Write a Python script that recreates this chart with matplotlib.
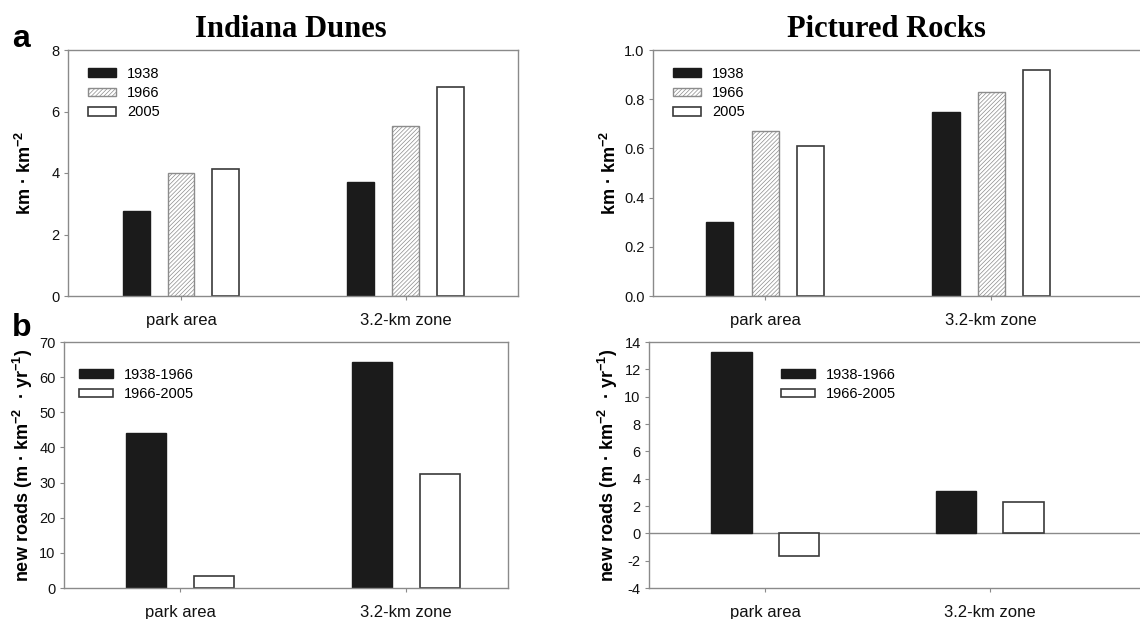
import matplotlib
matplotlib.use("Agg")
import matplotlib.pyplot as plt
import numpy as np

# ---------------- data ----------------
categories = ["park area", "3.2-km zone"]

years = ["1938", "1966", "2005"]
indiana_density = {"1938": [2.75, 3.72], "1966": [4.00, 5.53], "2005": [4.13, 6.80]}
pictured_density = {"1938": [0.30, 0.75], "1966": [0.67, 0.83], "2005": [0.61, 0.92]}

periods = ["1938-1966", "1966-2005"]
indiana_new = {"1938-1966": [44.0, 64.4], "1966-2005": [3.5, 32.3]}
pictured_new = {"1938-1966": [13.25, 3.1], "1966-2005": [-1.65, 2.3]}

top_yticks_left = [0, 2, 4, 6, 8]
top_yticks_right = [0.0, 0.2, 0.4, 0.6, 0.8, 1.0]
bot_yticks_left = [0, 10, 20, 30, 40, 50, 60, 70]
bot_yticks_right = [-4, -2, 0, 2, 4, 6, 8, 10, 12, 14]

# ---------------- style ----------------
plt.rcParams["font.family"] = ["Liberation Sans", "DejaVu Sans"]
plt.rcParams["axes.unicode_minus"] = False
plt.rcParams["mathtext.fontset"] = "custom"
plt.rcParams["mathtext.bf"] = "Liberation Sans:bold"
plt.rcParams["mathtext.rm"] = "Liberation Sans:bold"
plt.rcParams["mathtext.default"] = "bf"
plt.rcParams["hatch.linewidth"] = 0.5

W, H = 1140, 619
fig = plt.figure(figsize=(W / 100, H / 100), dpi=100)

SPINE = "#8a8a8a"
BLACK = "#1b1b1b"


def add_axes(left, right, top, bottom):
    return fig.add_axes([left / W, 1 - bottom / H, (right - left) / W, (bottom - top) / H])


def style(ax, yticks, yfmt):
    for s in ax.spines.values():
        s.set_color(SPINE)
        s.set_linewidth(1.0)
    ax.set_yticks(yticks)
    ax.set_yticklabels([yfmt.format(v) for v in yticks])
    ax.tick_params(axis="y", direction="out", length=3, width=0.8, color=SPINE,
                   pad=3, labelsize=10.5, labelcolor="#111")
    ax.tick_params(axis="x", direction="out", length=3, width=0.8, color=SPINE,
                   pad=9, labelsize=12, labelcolor="#111")
    ax.set_xticks(np.arange(len(categories)))
    ax.set_xticklabels(categories)


year_style = {
    "1938": dict(facecolor=BLACK, edgecolor=BLACK, linewidth=1.0),
    "1966": dict(facecolor="white", edgecolor="#8c8c8c", hatch="////////", linewidth=1.0),
    "2005": dict(facecolor="white", edgecolor="#3a3a3a", linewidth=1.2),
}
period_style = {
    "1938-1966": dict(facecolor=BLACK, edgecolor=BLACK, linewidth=1.0),
    "1966-2005": dict(facecolor="white", edgecolor="#3a3a3a", linewidth=1.2),
}

x = np.arange(len(categories))


def top_panel(ax, data):
    offs = [-0.2, 0.0, 0.2]
    for o, y in zip(offs, years):
        ax.bar(x + o, data[y], width=0.12, label=y, **year_style[y])


def bottom_panel(ax, data):
    offs = [-0.15, 0.15]
    for o, p in zip(offs, periods):
        ax.bar(x + o, data[p], width=0.18, label=p, **period_style[p])


def legend(ax, fx, fy, hl):
    ax.legend(loc="upper left", bbox_to_anchor=(fx / W, 1 - fy / H),
              bbox_transform=fig.transFigure, frameon=False, fontsize=10.5,
              handlelength=hl, handleheight=0.55, handletextpad=0.75,
              labelspacing=0.36, borderpad=0, borderaxespad=0)


ylab_top = "km · km$^{-2}$"
ylab_bot = "new roads (m · km$^{-2}$  · yr$^{-1}$)"

# ---- top-left: Indiana Dunes density
ax1 = add_axes(68, 518, 50, 296)
top_panel(ax1, indiana_density)
ax1.set_xlim(-0.503, 1.5)
ax1.set_ylim(0, 8)
style(ax1, top_yticks_left, "{:d}")
ax1.set_ylabel(ylab_top, fontsize=13, fontweight="bold", labelpad=12)
legend(ax1, 88, 67, 1.95)

# ---- top-right: Pictured Rocks density
ax2 = add_axes(653, 1145, 50, 296)
top_panel(ax2, pictured_density)
ax2.set_xlim(-0.496, 1.68)
ax2.set_ylim(0, 1.0)
style(ax2, top_yticks_right, "{:.1f}")
ax2.set_ylabel(ylab_top, fontsize=13, fontweight="bold", labelpad=3)
legend(ax2, 673, 67, 1.95)

# ---- bottom-left: Indiana Dunes new roads
ax3 = add_axes(64, 508, 342, 588)
bottom_panel(ax3, indiana_new)
ax3.set_xlim(-0.513, 1.451)
ax3.set_ylim(0, 70)
style(ax3, bot_yticks_left, "{:d}")
ax3.set_ylabel(ylab_bot, fontsize=13, fontweight="bold", labelpad=3)
legend(ax3, 79, 368, 2.3)

# ---- bottom-right: Pictured Rocks new roads
ax4 = add_axes(649, 1145, 342, 588)
bottom_panel(ax4, pictured_new)
ax4.axhline(0, color=SPINE, linewidth=1.0, zorder=0.5)
ax4.set_xlim(-0.516, 1.69)
ax4.set_ylim(-4, 14)
style(ax4, bot_yticks_right, "{:d}")
ax4.set_ylabel(ylab_bot, fontsize=13, fontweight="bold", labelpad=3)
legend(ax4, 781, 368, 2.3)

# ---- titles and panel letters
fig.text(291 / W, 1 - 37 / H, "Indiana Dunes", family=["Liberation Serif"],
         fontweight="bold", fontsize=22, ha="center", va="baseline")
fig.text(886 / W, 1 - 37 / H, "Pictured Rocks", family=["Liberation Serif"],
         fontweight="bold", fontsize=22, ha="center", va="baseline")
fig.text(12 / W, 1 - 47 / H, "a", fontweight="bold", fontsize=23, va="baseline")
fig.text(12 / W, 1 - 336 / H, "b", fontweight="bold", fontsize=23, va="baseline")

fig.savefig("out.png", dpi=100)
